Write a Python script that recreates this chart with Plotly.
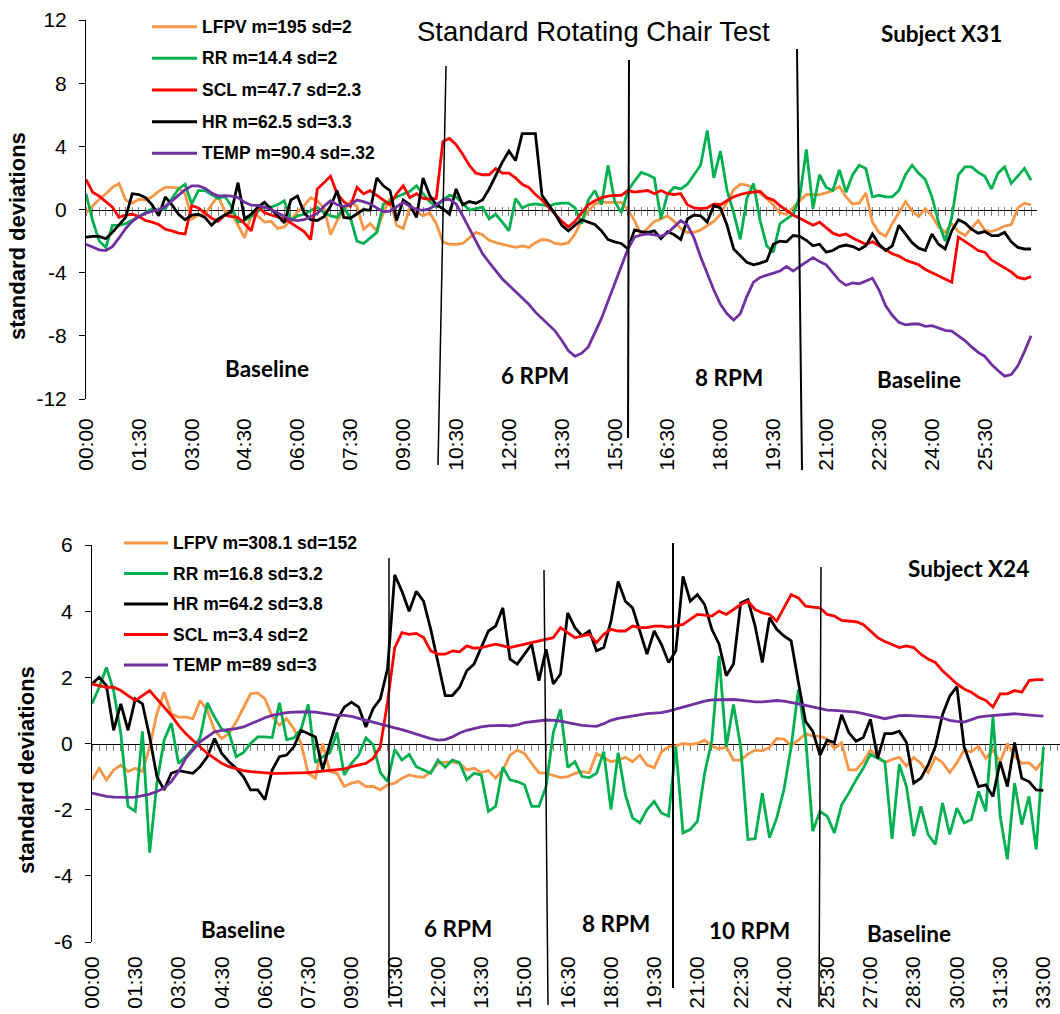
import plotly.graph_objects as go

W, H = 1060, 1014

# ---------------- Subject X31 (upper panel), one sample per category step ----------------
lfpv_x31 = [
    -0.2, 0.25, 0.65, 1.0, 1.4, 1.65, 0.6, 0.4, 0.65, 0.6,
    0.8, 1.15, 1.4, 1.4, 1.35, 1.0, -0.6, -0.35, -0.3, 0.3,
    0.85, -0.1, -0.25, -1.0, -1.8, -0.35, -0.4, -0.8, -0.75, -1.2,
    -1.1, -0.65, -0.15, 0.25, 0.75, 0.55, 0.1, -1.6, -0.7, -0.1,
    0.5, 0.2, -1.25, -0.9, -1.35, -0.2, 0.7, -1.0, -1.2, 0.15,
    -0.15, -0.4, -0.2, -0.9, -2.05, -2.2, -2.2, -2.15, -1.8, -1.45,
    -1.6, -1.95, -2.1, -2.2, -2.3, -2.4, -2.3, -2.4, -2.1, -1.9,
    -1.95, -2.15, -2.2, -2.1, -1.55, -0.7, -0.1, 0.35, 0.45, 0.45,
    0.45, 0.45, 0.0, -0.7, -1.6, -1.2, -0.75, -0.6, -0.4, -0.75,
    -1.2, -1.45, -1.45, -1.3, -1.05, -0.75, -0.3, 0.5, 1.25, 1.6,
    1.55, 1.35, 1.05, 0.7, 0.3, -0.2, -0.3, 0.1, 0.5, 0.95,
    0.95, 0.95, 1.05, 1.2, 1.45, 0.8, 0.35, 0.4, 1.05, -0.8,
    -1.45, -1.7, -0.9, -0.2, 0.5, -0.1, -0.45, 0.05, -0.4, -1.1,
    -1.45, -0.9, -1.4, -1.65, -1.2, -0.7, -1.3, -1.4, -1.25, -1.05,
    -0.95, 0.1, 0.4, 0.3,
]
rr_x31 = [
    1.0, -0.7, -2.0, -2.4, -1.0, -1.0, -0.9, -0.7, -0.45, -0.2,
    0.05, -0.05, 0.05, 0.7, 1.3, 1.6, 0.35, 1.2, 1.2, 0.95,
    0.7, 0.85, 0.2, -0.8, -0.7, -0.45, -0.1, 0.15, 0.15, 0.3,
    0.55, -0.7, -0.4, -0.3, -0.1, 0.15, -0.2, -0.4, -0.5, 0.1,
    -0.5, -2.0, -2.15, -1.8, -1.45, 0.35, 0.5, 0.8, 1.0, 1.15,
    1.5, 1.0, 0.5, 0.15, 0.6, 0.9, 0.8, 0.4, -0.05, 0.05,
    0.15, -0.6, -0.3, -0.8, -1.35, 0.7, 0.1, 0.3, 0.35, 0.3,
    0.2, 0.35, 0.4, 0.4, 0.1, -0.9, 0.6, 1.2, 0.3, 2.8,
    0.5, -0.2, 1.2, 1.8, 2.35, 2.2, 2.0, -0.6, 1.0, 1.4,
    1.3, 1.6, 2.2, 2.8, 5.0, 2.0, 3.7, 1.2, -0.2, -1.9,
    0.7, 1.65, -0.7, -2.3, -2.7, -0.9, -0.6, -0.3, 0.8, 3.8,
    0.05, 2.2, 1.4, 1.2, 2.5, 1.1, 2.2, 2.8, 2.6, 0.8,
    0.9, 0.8, 0.8, 1.2, 2.2, 2.8, 2.3, 1.9, 0.8, -0.8,
    -2.0, -0.5, 2.2, 2.7, 2.7, 2.35, 2.1, 1.3, 2.3, 2.7,
    1.65, 2.1, 2.6, 1.85,
]
scl_x31 = [
    1.9, 1.1, 0.85, 0.5, 0.15, -0.5, -0.35, -0.3, -0.45, -0.7,
    -0.8, -0.95, -1.25, -1.35, -1.5, -1.55, 0.25, 0.1, -0.2, -0.55,
    -0.75, -0.35, -0.45, -0.5, -0.9, -1.35, 0.2, -0.2, -0.35, -0.5,
    -0.6, -0.85, -1.1, -1.4, -1.9, 1.3, 1.7, 2.1, 1.0, 0.5,
    0.2, 1.4, 1.0, 1.2, 0.9, 0.6, 0.3, 1.0, 1.5, 0.75,
    1.0, 0.7, 0.65, 0.7, 4.3, 4.5, 4.1, 3.5, 2.8, 2.3,
    2.2, 2.2, 2.6, 2.3, 2.3, 2.0, 1.6, 1.4, 0.95, 0.6,
    0.15, -0.25, -0.75, -1.1, -0.75, -0.2, 0.3, 0.55, 0.75, 0.85,
    0.9, 0.9, 1.2, 1.1, 1.15, 1.2, 1.0, 1.2, 1.0, 0.95,
    1.0, 0.3, 0.1, 0.05, 0.1, 0.35, 0.3, 0.55, 0.8, 0.95,
    1.05, 1.1, 1.15, 0.75, 0.6, 0.25, -0.05, -0.35, -0.55, -0.8,
    -1.0, -0.8, -1.15, -1.5, -1.65, -1.55, -1.8, -2.0, -2.2, -2.05,
    -2.3, -2.6, -2.8, -2.95, -3.2, -3.35, -3.5, -3.8, -4.0, -4.2,
    -4.4, -4.6, -1.75, -2.0, -2.3, -2.6, -2.7, -3.2, -3.45, -3.65,
    -3.95, -4.3, -4.4, -4.25,
]
hr_x31 = [
    -1.75, -1.7, -1.7, -1.85, -1.45, -0.95, -0.5, 1.0, 0.95, 0.75,
    0.3, -0.4, 0.8, 0.3, -0.3, -0.65, -0.35, -0.3, -0.5, -1.0,
    -0.6, -0.35, -0.15, 1.7, -0.6, -0.3, 0.15, 0.45, 0.05, -0.4,
    -0.85, 0.6, 0.85, -0.2, -0.65, -0.7, -0.45, 0.2, 1.2, -0.5,
    -0.55, -0.3, 0.0, -0.05, 2.0, 1.5, 1.2, -0.7, 0.6, 0.3,
    -0.5, 2.0, 0.9, 0.3, 0.05, -0.3, 1.3, 0.3, 0.5, 0.4,
    0.6, 1.3, 2.2, 3.0, 3.7, 3.1, 4.8, 4.8, 4.8, 0.9,
    0.3, -0.3, -1.0, -1.35, -1.0, -0.65, -0.8, -0.95, -1.35, -1.9,
    -2.05, -2.15, -2.5, -1.3, -1.4, -1.45, -1.35, -1.85, -1.4, -1.6,
    -1.9, -0.6, -0.35, -0.4, -0.8, 0.25, 0.1, -1.0, -2.5, -2.9,
    -3.35, -3.5, -3.4, -3.25, -2.2, -2.0, -2.05, -1.65, -1.7, -1.95,
    -2.3, -2.2, -2.7, -2.6, -2.35, -2.25, -2.35, -2.55, -2.3, -1.55,
    -2.2, -2.6, -2.3, -1.0, -1.55, -2.1, -2.45, -2.6, -1.55, -2.2,
    -2.5, -1.35, -0.65, -0.85, -1.25, -1.5, -1.4, -1.65, -1.65, -1.45,
    -2.05, -2.4, -2.5, -2.5,
]
temp_x31 = [
    -2.2, -2.4, -2.55, -2.6, -2.35, -1.8, -1.2, -0.75, -0.45, -0.25,
    -0.1, -0.02, 0.2, 0.55, 0.9, 1.25, 1.5, 1.5, 1.35, 1.05,
    0.85, 0.88, 0.85, 0.75, 0.45, 0.28, 0.25, 0.15, 0.0, -0.2,
    -0.45, -0.65, -0.7, -0.65, -0.45, -0.25, 0.2, 0.55, 0.3, 0.2,
    0.3, 0.6, 0.5, 0.35, 0.1, -0.15, -0.1, 0.15, 0.45, 0.2,
    0.0, -0.05, 0.05, 0.3, 0.6, 0.65, 0.35, -0.4, -1.2, -2.0,
    -2.8, -3.35, -3.9, -4.4, -4.8, -5.2, -5.6, -6.0, -6.5, -6.9,
    -7.25, -7.7, -8.3, -8.95, -9.3, -9.1, -8.7, -7.8, -6.9, -5.8,
    -4.7, -3.6, -2.5, -1.75, -1.6, -1.55, -1.6, -1.7, -1.5, -1.1,
    -0.7, -1.0, -1.8, -3.0, -4.1, -5.1, -6.0, -6.6, -7.0, -6.6,
    -5.5, -4.6, -4.3, -4.15, -4.0, -3.9, -3.6, -3.9, -3.6, -3.35,
    -3.05, -3.3, -3.5, -4.0, -4.5, -4.8, -4.65, -4.7, -4.55, -4.35,
    -5.1, -6.1, -6.7, -7.15, -7.3, -7.25, -7.25, -7.4, -7.35, -7.5,
    -7.65, -7.7, -8.0, -8.3, -8.7, -9.05, -9.3, -9.8, -10.2, -10.55,
    -10.45, -9.9, -9.0, -8.0,
]

# ---------------- Subject X24 (lower panel), one sample per category step ----------------
lfpv_x24 = [
    -1.1, -0.75, -1.1, -0.8, -0.65, -0.85, -0.75, -0.85, -0.1, 0.9,
    1.55, 0.9, 0.8, 0.8, 0.75, 1.3, 1.0, 0.4, 0.15, 0.3,
    0.65, 1.1, 1.5, 1.53, 1.35, 0.82, 0.55, 0.75, 0.45, 0.0,
    -0.9, -1.05, 0.0, -0.85, -0.9, -1.3, -1.2, -1.15, -1.3, -1.3,
    -1.4, -1.25, -1.2, -1.05, -0.95, -1.0, -1.02, -0.85, -0.6, -0.56,
    -0.56, -0.6, -0.8, -0.75, -0.88, -0.82, -1.05, -0.8, -0.35, -0.2,
    -0.3, -0.6, -0.88, -0.9, -0.97, -1.03, -1.0, -0.9, -0.85, -0.88,
    -0.3, -0.42, -0.55, -0.5, -0.42, -0.55, -0.35, -0.65, -0.73, -0.25,
    -0.1, -0.07, 0.0, -0.03, 0.0, 0.1, -0.08, -0.17, -0.1, -0.5,
    -0.5, -0.32, -0.2, -0.22, -0.12, 0.15, 0.13, -0.06, 0.1, 0.3,
    0.22, 0.22, 0.13, -0.15, 0.02, -0.8, -0.8, -0.55, -0.2, -0.4,
    -0.58, -0.48, -0.42, -0.68, -0.42, -0.6, -0.88, -0.42, -0.58, -0.88,
    -0.58, -0.2, -0.25, -0.08, -0.45, -0.2, -0.55, 0.0, -0.38, -0.6,
    -0.58, -0.78, -0.48,
]
rr_x24 = [
    1.2, 1.7, 2.3, 1.6, 0.3, -1.9, -2.05, 0.37, -3.3, -1.2,
    0.1, 0.62, -0.6, -0.4, -0.15, 0.17, 1.23, 0.8, 0.43, 0.33,
    -0.4, -0.28, 0.0, 0.2, 0.2, 0.18, 1.23, 0.12, 0.17, 0.43,
    1.18, -0.58, -0.4, -0.28, 0.33, -0.95, -0.6, -0.35, 0.17, -0.03,
    -0.88, -1.15, -0.18, -0.5, -0.33, -0.7, -0.8, -0.9, -0.5, -0.72,
    -0.5, -0.58, -1.1, -0.9, -0.95, -2.05, -1.9, -0.72, -1.1, -1.15,
    -1.25, -1.9, -1.9, -1.3, 0.33, 1.03, -0.72, -0.55, -1.0, -1.03,
    -0.9, -0.25, -2.0, -0.28, -1.55, -2.25, -2.4, -2.0, -1.75, -2.1,
    -2.2, -0.1, -2.7, -2.6, -2.35, -0.9, 0.1, 2.65, -0.1, 1.18,
    -0.1, -2.9, -2.88, -1.5, -2.85, -2.25, -1.4, -0.1, 1.63, 0.2,
    -2.65, -2.05, -2.2, -2.7, -1.85, -1.5, -1.1, -0.75, -0.33, -0.43,
    -0.55, -2.88, -0.63, -1.3, -2.8, -1.9, -2.75, -3.05, -1.8, -2.75,
    -1.95, -2.4, -2.3, -1.45, -2.05, 0.8, -2.2, -3.5, -1.2, -2.45,
    -1.6, -3.2, -0.1,
]
hr_x24 = [
    1.8, 2.0, 1.75, 0.4, 1.2, 0.4, 1.35, 1.2, 0.2, -1.0,
    -1.4, -0.9, -0.82, -0.85, -0.9, -0.7, -0.4, 0.15, -0.3, -0.55,
    -0.75, -1.0, -1.4, -1.4, -1.7, -0.8, -0.4, -0.35, -0.1, 0.4,
    0.3, 0.2, -0.8, 0.0, 0.7, 1.1, 1.25, 1.1, 0.5, 1.05,
    1.35, 2.25, 5.1, 4.6, 4.0, 4.6, 4.3, 3.45, 2.45, 1.45,
    1.45, 1.7, 2.2, 2.4, 2.9, 3.4, 3.55, 4.1, 2.55, 2.4,
    2.7, 3.0, 1.9, 2.85, 1.8, 2.1, 3.95, 3.5, 3.25, 3.4,
    2.8, 2.9, 3.7, 4.9, 4.3, 4.1, 3.4, 2.7, 3.4, 3.0,
    2.45, 2.8, 5.05, 4.3, 4.5, 4.2, 3.45, 3.0, 2.05, 2.4,
    4.25, 4.35, 3.55, 2.45, 3.8, 3.45, 3.25, 3.1, 1.85, 0.67,
    0.37, -0.35, 0.1, 0.03, 0.87, 0.33, 0.07, 0.18, 0.73, -0.45,
    0.3, 0.3, 0.37, 0.03, -1.2, -1.05, -0.65, -0.1, 0.87, 1.43,
    1.72, -0.1, -0.7, -1.3, -1.25, -1.6, -0.55, -1.3, 0.03, -1.05,
    -1.15, -1.4, -1.42,
]
scl_x24 = [
    1.8, 1.75, 1.7, 1.7, 1.6, 1.45, 1.3, 1.45, 1.6, 1.35,
    1.1, 0.85, 0.55, 0.3, 0.1, -0.1, -0.3, -0.45, -0.6, -0.7,
    -0.77, -0.82, -0.85, -0.87, -0.88, -0.9, -0.9, -0.9, -0.9, -0.9,
    -0.88, -0.86, -0.84, -0.82, -0.8, -0.77, -0.7, -0.65, -0.6, -0.45,
    -0.1, 1.25, 2.9, 3.35, 3.3, 3.33, 3.2, 2.8, 2.7, 2.7,
    2.8, 2.77, 2.95, 2.88, 2.9, 2.95, 3.0, 2.95, 2.9, 2.95,
    3.0, 3.05, 3.1, 3.15, 3.2, 3.5, 3.35, 3.2, 3.25, 3.3,
    3.05, 3.3, 3.45, 3.4, 3.4, 3.55, 3.5, 3.5, 3.55, 3.55,
    3.52, 3.55, 3.6, 3.75, 3.9, 3.88, 3.85, 4.0, 3.9, 4.05,
    4.2, 4.3, 4.05, 3.95, 3.9, 3.7, 4.1, 4.5, 4.4, 4.15,
    4.12, 4.1, 3.9, 3.85, 3.72, 3.7, 3.68, 3.6, 3.4, 3.2,
    3.08, 3.0, 2.9, 2.95, 2.9, 2.7, 2.55, 2.45, 2.2, 2.0,
    1.8, 1.65, 1.55, 1.4, 1.3, 1.1, 1.5, 1.5, 1.6, 1.55,
    1.9, 1.93, 1.93,
]
temp_x24 = [
    -1.5, -1.55, -1.6, -1.62, -1.63, -1.63, -1.62, -1.58, -1.53, -1.45,
    -1.35, -1.15, -0.85, -0.45, -0.2, 0.05, 0.2, 0.35, 0.4, 0.42,
    0.45, 0.5, 0.6, 0.7, 0.78, 0.85, 0.9, 0.93, 0.95, 0.96,
    0.96, 0.95, 0.92, 0.87, 0.85, 0.85, 0.82, 0.76, 0.7, 0.63,
    0.58, 0.53, 0.47, 0.42, 0.35, 0.28, 0.2, 0.15, 0.1, 0.12,
    0.2, 0.32, 0.4, 0.46, 0.5, 0.53, 0.55, 0.55, 0.53, 0.56,
    0.63, 0.66, 0.7, 0.71, 0.7, 0.68, 0.63, 0.58, 0.55, 0.53,
    0.52, 0.6, 0.7, 0.76, 0.8, 0.83, 0.87, 0.9, 0.92, 0.93,
    0.98, 1.04, 1.1, 1.17, 1.22, 1.28, 1.32, 1.33, 1.33, 1.33,
    1.31, 1.28, 1.26, 1.26, 1.28, 1.3, 1.28, 1.25, 1.2, 1.15,
    1.1, 1.04, 1.01, 1.0, 0.99, 0.98, 0.95, 0.9, 0.85, 0.78,
    0.75, 0.8, 0.84, 0.85, 0.84, 0.83, 0.82, 0.8, 0.77, 0.7,
    0.67, 0.65, 0.72, 0.8, 0.83, 0.85, 0.87, 0.89, 0.9, 0.88,
    0.85, 0.84, 0.83,
]

# Category tick labels (one label every 8 steps above, every 6 steps below)
time_labels_x31 = ["00:00", "01:30", "03:00", "04:30", "06:00", "07:30", "09:00",
                   "10:30", "12:00", "13:30", "15:00", "16:30", "18:00", "19:30",
                   "21:00", "22:30", "24:00", "25:30"]
time_labels_x24 = ["00:00", "01:30", "03:00", "04:30", "06:00", "07:30", "09:00",
                   "10:30", "12:00", "13:30", "15:00", "16:30", "18:00", "19:30",
                   "21:00", "22:30", "24:00", "25:30", "27:00", "28:30", "30:00",
                   "31:30", "33:00"]

legend_x31 = ["LFPV m=195 sd=2", "RR m=14.4 sd=2", "SCL m=47.7 sd=2.3",
              "HR m=62.5 sd=3.3", "TEMP m=90.4 sd=.32"]
legend_x24 = ["LFPV m=308.1 sd=152", "RR m=16.8 sd=3.2", "HR m=64.2 sd=3.8",
              "SCL m=3.4 sd=2", "TEMP m=89 sd=3"]

phases_x31 = ["Baseline", "6 RPM", "8 RPM", "Baseline"]
phases_x24 = ["Baseline", "6 RPM", "8 RPM", "10 RPM", "Baseline"]

ORANGE, GREEN, RED, BLACK, PURPLE = "#F79646", "#00B050", "#FF0000", "#000000", "#7030A0"
AXFONT = "Liberation Sans, Arial, sans-serif"
CALFONT = "Lato, Carlito, Calibri, sans-serif"


def fx(p):
    return p / W


def fy(p):
    return 1 - p / H


top_dom_x = [fx(86), fx(1037)]
top_dom_y = [fy(399), fy(20)]
bot_dom_x = [fx(92), 1.0]
bot_dom_y = [fy(942), fy(545)]
top_range = [0, 143.9]
bot_range = [0, 134.3]

fig = go.Figure()

top_series = [(legend_x31[0], lfpv_x31, ORANGE), (legend_x31[1], rr_x31, GREEN),
              (legend_x31[2], scl_x31, RED), (legend_x31[3], hr_x31, BLACK),
              (legend_x31[4], temp_x31, PURPLE)]
bot_series = [(legend_x24[0], lfpv_x24, ORANGE), (legend_x24[1], rr_x24, GREEN),
              (legend_x24[2], hr_x24, BLACK), (legend_x24[3], scl_x24, RED),
              (legend_x24[4], temp_x24, PURPLE)]

# helper traces so the zero-line overlay axes are laid out
fig.add_trace(go.Scatter(x=[], y=[], xaxis="x3", yaxis="y", showlegend=False))
fig.add_trace(go.Scatter(x=[], y=[], xaxis="x4", yaxis="y", showlegend=False))
fig.add_trace(go.Scatter(x=[], y=[], xaxis="x5", yaxis="y2", showlegend=False))

for name, vals, col in top_series:
    fig.add_trace(go.Scatter(x=list(range(len(vals))), y=vals, mode="lines", name=name,
                             line=dict(color=col, width=2.8), xaxis="x", yaxis="y",
                             showlegend=False))
for name, vals, col in bot_series:
    fig.add_trace(go.Scatter(x=list(range(len(vals))), y=vals, mode="lines", name=name,
                             line=dict(color=col, width=2.8), xaxis="x2", yaxis="y2",
                             showlegend=False))

label_axis = dict(showline=False, ticks="", showgrid=False, zeroline=False,
                  automargin=False, tickmode="array", tickangle=-90,
                  tickfont=dict(family=AXFONT, size=21, color="black"))
value_axis = dict(showline=True, linecolor="black", linewidth=1, ticks="outside",
                  ticklen=6, tickcolor="black", showgrid=False, zeroline=False,
                  automargin=False,
                  tickmode="array", ticklabelstandoff=8,
                  tickfont=dict(family=AXFONT, size=21, color="black"))
zero_axis = dict(showline=True, linecolor="black", linewidth=1, ticks="outside",
                 tickcolor="#808080", tickwidth=1, tickmode="linear", tick0=0, dtick=1,
                 showticklabels=False, showgrid=False, zeroline=False, automargin=False,
                 anchor="free", layer="below traces")

top_vals = [-12, -8, -4, 0, 4, 8, 12]
bot_vals = [-6, -4, -2, 0, 2, 4, 6]

fig.update_layout(
    width=W, height=H, autosize=False,
    margin=dict(l=0, r=0, t=0, b=0, autoexpand=False),
    paper_bgcolor="white", plot_bgcolor="rgba(0,0,0,0)",
    showlegend=False,
    xaxis=dict(label_axis, domain=top_dom_x, range=top_range, anchor="y",
               ticklabelstandoff=14,
               tickvals=[8 * k for k in range(len(time_labels_x31))],
               ticktext=time_labels_x31),
    yaxis=dict(value_axis, domain=top_dom_y, range=[-12, 12], anchor="x",
               tickvals=top_vals, ticktext=[str(v) for v in top_vals]),
    xaxis2=dict(label_axis, domain=bot_dom_x, range=bot_range, anchor="y2",
                ticklabelstandoff=9,
                tickvals=[6 * k for k in range(len(time_labels_x24))],
                ticktext=time_labels_x24),
    yaxis2=dict(value_axis, domain=bot_dom_y, range=[-6, 6], anchor="x2",
                tickvals=bot_vals, ticktext=[str(v) for v in bot_vals]),
    xaxis3=dict(zero_axis, domain=top_dom_x, range=top_range, overlaying="x",
                position=(top_dom_y[0] + top_dom_y[1]) / 2, side="bottom", ticklen=5),
    xaxis4=dict(zero_axis, domain=top_dom_x, range=top_range, overlaying="x",
                position=(top_dom_y[0] + top_dom_y[1]) / 2, side="top", ticklen=3),
    xaxis5=dict(zero_axis, domain=bot_dom_x, range=bot_range, overlaying="x2",
                position=(bot_dom_y[0] + bot_dom_y[1]) / 2, side="bottom", ticklen=6),
)

shapes = []
annotations = []

# phase boundary markers
for (x0, y0, x1, y1, w) in [(446, 66, 438, 465, 1.5), (629, 60, 628, 438, 2),
                            (797, 49, 802, 470, 2),
                            (389, 558, 389, 998, 1.5), (544, 570, 548, 1005, 1.5),
                            (673, 543, 673, 988, 2), (821, 567, 819, 1007, 1.5)]:
    shapes.append(dict(type="line", xref="paper", yref="paper",
                       x0=fx(x0), y0=fy(y0), x1=fx(x1), y1=fy(y1),
                       line=dict(color="black", width=w)))

# legend blocks
def legend_block(names, colors, rows, lx0, lx1, tx):
    for name, col, ry in zip(names, colors, rows):
        shapes.append(dict(type="line", xref="paper", yref="paper",
                           x0=fx(lx0), x1=fx(lx1), y0=fy(ry), y1=fy(ry),
                           line=dict(color=col, width=3)))
        annotations.append(dict(xref="paper", yref="paper", x=fx(tx), y=fy(ry),
                                xanchor="left", yanchor="middle", showarrow=False,
                                text="<b>%s</b>" % name,
                                font=dict(family=AXFONT, size=17.5, color="black")))


legend_block(legend_x31, [c for _, _, c in top_series],
             [26.7, 58.3, 90, 121.7, 153.3], 152, 197, 200)
legend_block(legend_x24, [c for _, _, c in bot_series],
             [543, 573.5, 604, 634.5, 665], 124, 168, 171)


def text(x, y, s, family, size, bold=False, angle=0):
    annotations.append(dict(xref="paper", yref="paper", x=fx(x), y=fy(y),
                            xanchor="center", yanchor="middle", showarrow=False,
                            textangle=angle,
                            text="<b>%s</b>" % s if bold else s,
                            font=dict(family=family, size=size, color="black")))


text(593, 31, "Standard Rotating Chair Test", AXFONT, 27.5)
text(941, 33, "Subject X31", CALFONT, 22.5, bold=True)
text(968, 568, "Subject X24", CALFONT, 22.5, bold=True)
text(18, 236, "standard deviations", AXFONT, 22, bold=True, angle=-90)
text(26, 770, "standard deviations", AXFONT, 22, bold=True, angle=-90)

for s, (x, y) in zip(phases_x31, [(267, 368), (535, 375), (729, 377), (919, 379)]):
    text(x, y, s, CALFONT, 22.5, bold=True)
for s, (x, y) in zip(phases_x24, [(243, 929), (458, 928), (616, 923), (749, 930), (909, 933)]):
    text(x, y, s, CALFONT, 22.5, bold=True)

fig.update_layout(shapes=shapes, annotations=annotations)

fig.write_html("out.html")
